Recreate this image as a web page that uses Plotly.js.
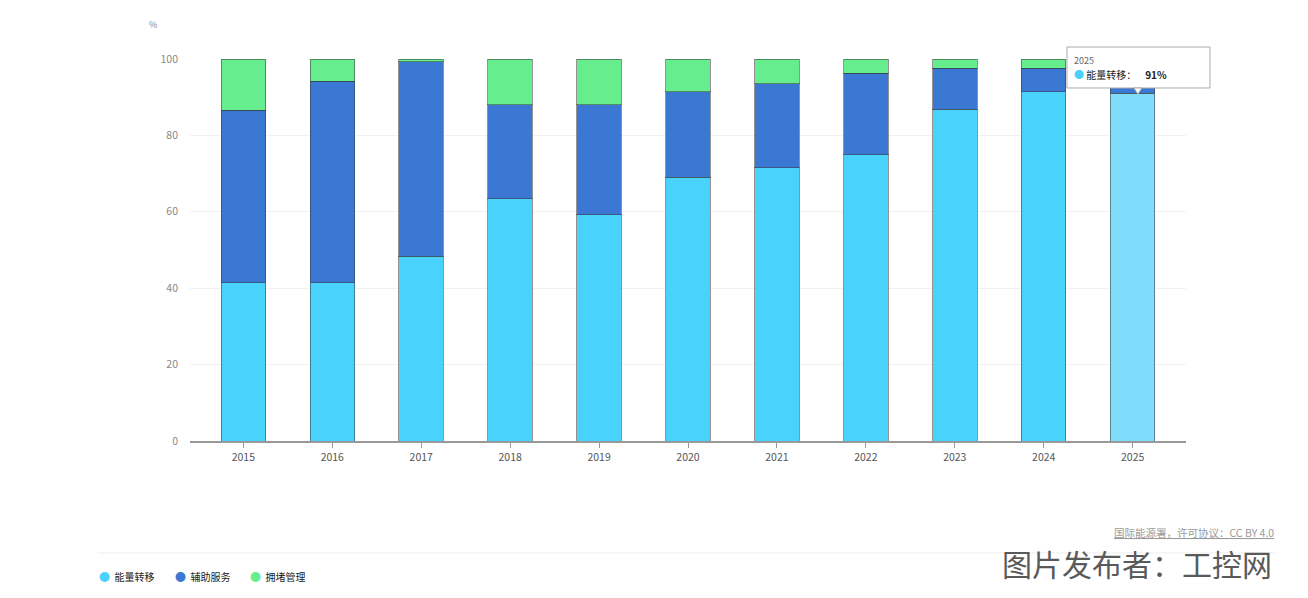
<!DOCTYPE html>
<html>
<head>
<meta charset="utf-8">
<script src="https://cdn.plot.ly/plotly-3.0.1.min.js"></script>
<style>html,body{margin:0;padding:0;background:#fff;}#chart{width:1308px;height:598px;}</style>
</head>
<body>
<div id="chart"></div>
<script>
const years = ['2015','2016','2017','2018','2019','2020','2021','2022','2023','2024','2025'];
const energyShifting = [41.4, 41.4, 48.4, 63.4, 59.2, 69.1, 71.5, 74.9, 86.9, 91.4, 91];
const ancillaryServices = [45.2, 52.8, 50.9, 24.6, 28.8, 22.3, 22.0, 21.4, 10.7, 6.2, 6.5];
const congestionMgmt = [13.4, 5.8, 0.7, 12.0, 12.0, 8.6, 6.5, 3.7, 2.4, 2.4, 2.5];
const seriesNames = ['能量转移', '辅助服务', '拥堵管理'];
const yTicks = [0, 20, 40, 60, 80, 100];
const sourceText = '国际能源署，许可协议：CC BY 4.0';
const watermark = '图片发布者：工控网';
const hoverIndex = 10;

const colors = ['#48d2fc', '#3b78d3', '#66ee8e'];
const lightFirst = years.map((y, i) => i === hoverIndex ? '#7fdcfa' : colors[0]);
const font = "'Noto Sans CJK SC', 'Noto Sans', sans-serif";
const outline = {color: 'rgba(60,60,60,0.55)', width: 1};

const traces = [
  {type: 'bar', x: years, y: energyShifting, name: seriesNames[0], marker: {color: lightFirst, line: outline}, hoverinfo: 'none'},
  {type: 'bar', x: years, y: ancillaryServices, name: seriesNames[1], marker: {color: colors[1], line: outline}, hoverinfo: 'none'},
  {type: 'bar', x: years, y: congestionMgmt, name: seriesNames[2], marker: {color: colors[2], line: outline}, hoverinfo: 'none'}
];

// legend drawn as annotations (circle symbols, compact spacing)
const legendX = [-0.093, -0.017, 0.058];
const legendAnn = seriesNames.map((n, i) => ({
  text: '<span style="color:' + colors[i] + ';font-size:11px">●</span>  ' + n,
  xref: 'paper', yref: 'paper', x: legendX[i], y: -0.353, xanchor: 'left', yanchor: 'middle',
  showarrow: false, font: {size: 10, color: '#222'}
}));

const layout = {
  width: 1308, height: 598,
  margin: {l: 190, r: 122, t: 59, b: 157, autoexpand: false},
  paper_bgcolor: '#fff', plot_bgcolor: '#fff',
  barmode: 'stack', bargap: 0.5,
  font: {family: font, size: 10, color: '#444'},
  showlegend: false,
  xaxis: {
    type: 'category', range: [-0.6, 10.6], showgrid: false,
    showline: true, linecolor: '#999', linewidth: 2,
    ticks: 'outside', ticklen: 5, tickcolor: '#999', tickwidth: 1,
    tickfont: {size: 10.5, color: '#555'}, fixedrange: true
  },
  yaxis: {
    range: [0, 100], tickvals: yTicks, showgrid: true, gridcolor: '#f1f1f1',
    zeroline: false, showline: false, ticks: '', ticklabelstandoff: 11,
    tickfont: {size: 10.5, color: '#888'}, fixedrange: true
  },
  shapes: [
    {type: 'line', xref: 'paper', yref: 'paper', x0: -0.093, x1: 1.09, y0: -0.293, y1: -0.293,
     line: {color: '#eeeeee', width: 1}},
    {type: 'rect', xref: 'paper', yref: 'paper', x0: 0.8805, x1: 1.0241, y0: 0.9241, y1: 1.0314,
     fillcolor: '#ffffff', line: {color: '#aaaaaa', width: 1}},
    {type: 'path', xref: 'paper', yref: 'paper',
     path: 'M 0.9477 0.9241 L 0.9517 0.908 L 0.9557 0.9241 Z',
     fillcolor: '#ffffff', line: {color: '#aaaaaa', width: 1}}
  ],
  annotations: [
    {text: '%', xref: 'paper', yref: 'paper', x: -0.037, y: 1.09, xanchor: 'center', yanchor: 'middle',
     showarrow: false, font: {size: 9, color: '#888'}},
    {text: '<u>' + sourceText + '</u>', xref: 'paper', yref: 'paper', x: 1.09, y: -0.24, xanchor: 'right', yanchor: 'middle',
     showarrow: false, font: {size: 10.5, color: '#999'}},
    {text: watermark, xref: 'paper', yref: 'paper', x: 1.088, y: -0.32, xanchor: 'right', yanchor: 'middle',
     showarrow: false, font: {size: 30, color: '#5a5a5a'}},
    {text: years[hoverIndex], xref: 'paper', yref: 'paper', x: 0.8855, y: 0.9948,
     xanchor: 'left', yanchor: 'middle', showarrow: false, font: {size: 9, color: '#666'}},
    {text: '<span style="color:' + colors[0] + '">●</span> ' + seriesNames[0] + '：    <b>' + Math.round(energyShifting[hoverIndex]) + '%</b>',
     xref: 'paper', yref: 'paper', x: 0.8855, y: 0.9607,
     xanchor: 'left', yanchor: 'middle', showarrow: false, align: 'left',
     font: {size: 10, color: '#222'}}
  ].concat(legendAnn)
};

Plotly.newPlot('chart', traces, layout, {displayModeBar: false});
</script>
</body>
</html>
